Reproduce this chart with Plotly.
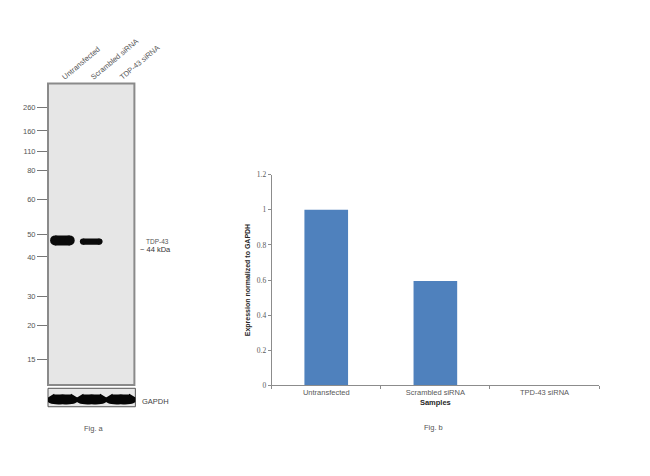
import plotly.graph_objects as go

# ---------------- data ----------------
samples = ["Untransfected", "Scrambled siRNA", "TPD-43 siRNA"]
expression = [1.0, 0.595, 0.0]

lanes = ["Untransfected", "Scrambled siRNA", "TDP-43 siRNA"]
marker_kda = ["260", "160", "110", "80", "60", "50", "40", "30", "20", "15"]
marker_migration = [24.7, 48.3, 69.0, 88.3, 118.0, 153.3, 176.7, 216.7, 246.7, 281.3]
tdp43_migration = [159.8, 161.0, 161.0]
tdp43_intensity = [1.0, 0.62, 0.0]
tdp43_band_span = [0.84, 0.78, 0.0]   # band length, in lane widths
gapdh_intensity = [1.0, 1.0, 1.0]

W, H = 650, 476
LANE_PX = 30.0  # pixel width of one lane in the blot panel

def px(x):
    return x / W

def py(y):
    return (H - y) / H

fig = go.Figure()

# bar chart (Fig. b)
fig.add_trace(go.Bar(x=samples, y=expression, marker_color="#4f81bd",
                     marker_line_width=0, width=0.4, xaxis="x", yaxis="y"))

# TDP-43 bands (rounded ends)
for i, (mig, inten, span) in enumerate(zip(tdp43_migration, tdp43_intensity, tdp43_band_span)):
    if inten <= 0:
        continue
    lane = i + 1
    w = 10 * inten
    half = span / 2 - (w / 2) / LANE_PX
    fig.add_trace(go.Scatter(x=[lane - half, lane + half], y=[mig, mig], mode="lines+markers",
                             line=dict(color="#0a0a0a", width=w),
                             marker=dict(color="#0a0a0a", size=w, symbol="circle"),
                             xaxis="x2", yaxis="y2", hoverinfo="skip"))

# GAPDH bands (slight "smile" shape)
for i, inten in enumerate(gapdh_intensity):
    lane = i + 1
    fig.add_trace(go.Scatter(x=[lane - 0.44, lane - 0.36, lane, lane + 0.36, lane + 0.44],
                             y=[0.56, 0.43, 0.40, 0.43, 0.56], mode="lines",
                             line=dict(color="#050505", width=10 * inten, shape="spline"),
                             xaxis="x3", yaxis="y3", hoverinfo="skip"))

grey_txt = "#595959"
fig.update_layout(
    width=W, height=H, margin=dict(l=0, r=0, t=0, b=0),
    paper_bgcolor="white", plot_bgcolor="white", showlegend=False,
    xaxis=dict(domain=[px(283), px(624)], anchor="y", type="category",
               range=[-0.5, 2.5], showline=True, linecolor="#8c8c8c", linewidth=1,
               ticks="outside", tickson="boundaries", ticklen=3, tickcolor="#8c8c8c",
               tickfont=dict(family="Arial, Liberation Sans", size=7.5, color=grey_txt),
               showgrid=False, zeroline=False,
               title=dict(text="<b>Samples</b>", standoff=3,
                          font=dict(family="Arial, Liberation Sans", size=7.5, color="#262626"))),
    yaxis=dict(domain=[py(388.7), py(174)], anchor="x", range=[0, 1.2], dtick=0.2,
               showline=True, linecolor="#8c8c8c", linewidth=1,
               ticks="outside", ticklen=3, tickcolor="#8c8c8c",
               tickfont=dict(family="Liberation Serif, Times New Roman", size=7.5, color=grey_txt),
               showgrid=False, zeroline=False,
               title=dict(text="<b>Expression normalized to GAPDH</b>", standoff=5,
                          font=dict(family="Arial, Liberation Sans", size=7, color="#262626"))),
    xaxis2=dict(domain=[px(50), px(140)], anchor="y2", range=[0.5, 3.5], side="top",
                tickmode="array", tickvals=[1, 2, 3], ticktext=lanes, tickangle=-40,
                ticks="", showline=False, showgrid=False, zeroline=False,
                tickfont=dict(family="Arial, Liberation Sans", size=7.5, color="#555555")),
    yaxis2=dict(domain=[py(388.3), py(81)], anchor="x2", range=[307, 0],
                tickmode="array", tickvals=marker_migration, ticktext=marker_kda,
                ticks="outside", ticklen=10, tickcolor="#777777", tickwidth=1,
                showline=False, showgrid=False, zeroline=False,
                tickfont=dict(family="Arial, Liberation Sans", size=7.5, color="#555555")),
    xaxis3=dict(domain=[px(50), px(141)], anchor="y3", range=[0.5, 3.5], visible=False),
    yaxis3=dict(domain=[py(410.5), py(391.7)], anchor="x3", range=[0, 1], visible=False),
    shapes=[
        dict(type="rect", xref="x2 domain", yref="y2 domain", x0=0, x1=1, y0=0, y1=1,
             fillcolor="#e6e6e6", line=dict(color="#8a8a8a", width=2), layer="below"),
        dict(type="rect", xref="x3 domain", yref="y3 domain", x0=0, x1=1, y0=0, y1=1,
             fillcolor="#e8e8e8", line=dict(color="#555555", width=1), layer="below"),
    ],
    annotations=[
        dict(text="TDP-43", x=px(150), y=py(241.7), xref="paper", yref="paper",
             xanchor="left", yanchor="middle", showarrow=False,
             font=dict(family="Arial, Liberation Sans", size=6.5, color="#555555")),
        dict(text="~ 44 kDa", x=px(144), y=py(250.7), xref="paper", yref="paper",
             xanchor="left", yanchor="middle", showarrow=False,
             font=dict(family="Arial, Liberation Sans", size=7.5, color="#333333")),
        dict(text="GAPDH", x=px(146), y=py(405), xref="paper", yref="paper",
             xanchor="left", yanchor="middle", showarrow=False,
             font=dict(family="Arial, Liberation Sans", size=7.5, color="#444444")),
        dict(text="Fig. a", x=px(98), y=py(433), xref="paper", yref="paper",
             xanchor="center", yanchor="middle", showarrow=False,
             font=dict(family="Arial, Liberation Sans", size=7.5, color="#555555")),
        dict(text="Fig. b", x=px(452), y=py(432), xref="paper", yref="paper",
             xanchor="center", yanchor="middle", showarrow=False,
             font=dict(family="Arial, Liberation Sans", size=7.5, color="#555555")),
    ],
)

fig.write_html("out.html", config={"displayModeBar": False},
               post_script="document.body.style.margin='0';document.body.style.overflow='hidden';")
